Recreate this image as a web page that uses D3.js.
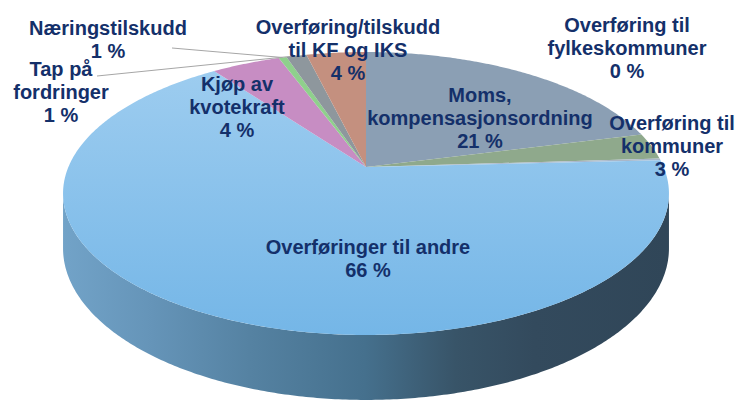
<!DOCTYPE html>
<html>
<head>
<meta charset="utf-8">
<script src="https://cdn.jsdelivr.net/npm/d3@7"></script>
<style>
  body { margin: 0; background: #fff; }
  text { font-family: "Liberation Sans", Arial, sans-serif; font-weight: bold; }
</style>
</head>
<body>
<div id="chart"></div>
<script>
// data, in pie order (clockwise from 12 o'clock); shares in percent, labels show them rounded
const categories = ["Moms, kompensasjonsordning", "Overføring til kommuner", "Overføring til fylkeskommuner",
  "Overføringer til andre", "Kjøp av kvotekraft", "Næringstilskudd", "Tap på fordringer",
  "Overføring/tilskudd til KF og IKS"];
const values = [21.0, 3.0, 0.2, 65.8, 4.4, 0.5, 1.3, 3.8];
const labelLines = [["Moms,", "kompensasjonsordning"], ["Overføring til", "kommuner"], ["Overføring til", "fylkeskommuner"],
  ["Overføringer til andre"], ["Kjøp av", "kvotekraft"], ["Næringstilskudd"], ["Tap på", "fordringer"],
  ["Overføring/tilskudd", "til KF og IKS"]];

// layout
const width = 738, height = 403;
const colors = ["#8b9fb4", "#8fa98c", "#a9b7c9", "url(#topBlue)", "#c78dc3", "#8fd08c", "#8e979d", "#c4907f"];
const labelAt = [[480, 102], [672, 130], [627, 32], [368, 254], [237, 91], [108, 35], [61, 76], [348, 34]];
const leaderFrom = {5: [172, 48], 6: [97, 76]};
const lineGap = 23;

// perspective projection of the pie disc
const cx = 366, cy = 167, A = 297.6, B = 136.5, k = 0.1873, T = 52.8;
function proj(a, r, h) {
  let x = r * Math.sin(a), z = r * Math.cos(a), w = 1 + k * z;
  return [cx + A * x / w, cy + (-B * z + h * T) / w];
}
function arcPts(a0, a1, h) {
  let n = Math.max(2, Math.ceil(Math.abs(a1 - a0) / 0.01));
  return d3.range(n + 1).map(i => proj(a0 + (a1 - a0) * i / n, 1, h));
}

let svg = d3.select("#chart").append("svg")
    .attr("width", width)
    .attr("height", height);

let defs = svg.append("defs");
let gTop = defs.append("linearGradient").attr("id", "topBlue")
    .attr("gradientUnits", "userSpaceOnUse")
    .attr("x1", 0).attr("y1", 52).attr("x2", 0).attr("y2", 337);
gTop.append("stop").attr("offset", 0).attr("stop-color", "#a0cef0");
gTop.append("stop").attr("offset", 1).attr("stop-color", "#74b6e7");

let gSide = defs.append("linearGradient").attr("id", "sideBlue")
    .attr("gradientUnits", "userSpaceOnUse")
    .attr("x1", 62).attr("y1", 0).attr("x2", 668).attr("y2", 0);
[[0, "#72a3c8"], [0.15, "#6594b8"], [0.31, "#5582a2"], [0.5, "#45708d"], [0.65, "#385468"], [0.78, "#334a5d"], [1, "#304658"]]
  .forEach(s => gSide.append("stop").attr("offset", s[0]).attr("stop-color", s[1]));

let pie = d3.pie().sort(null).startAngle(0).endAngle(2 * Math.PI);
let arcs = pie(values);
let line = d3.line();

// side wall (front half only)
let aR = Math.acos(-k), aL = 2 * Math.PI - aR;
arcs.forEach(d => {
  let s = Math.max(d.startAngle, aR), e = Math.min(d.endAngle, aL);
  if (e <= s) return;
  let pts = arcPts(s, e, 0).concat(arcPts(e, s, 1));
  svg.append("path")
      .attr("d", line(pts) + "Z")
      .attr("fill", "url(#sideBlue)");
});

// top faces
arcs.forEach((d, i) => {
  if (d.endAngle - d.startAngle <= 0) return;
  let pts = [[cx, cy]].concat(arcPts(d.startAngle, d.endAngle, 0));
  svg.append("path")
      .attr("d", line(pts) + "Z")
      .attr("fill", colors[i]);
});

// leader lines
arcs.forEach((d, i) => {
  if (!leaderFrom[i]) return;
  let end = proj((d.startAngle + d.endAngle) / 2, 1, 0);
  svg.append("line")
      .attr("x1", leaderFrom[i][0]).attr("y1", leaderFrom[i][1])
      .attr("x2", end[0]).attr("y2", end[1])
      .attr("stroke", "#a6a6a6").attr("stroke-width", 1);
});

// labels
categories.forEach((c, i) => {
  let lines = labelLines[i].concat([Math.round(values[i]) + " %"]);
  let t = svg.append("text")
      .attr("x", labelAt[i][0]).attr("y", labelAt[i][1])
      .attr("text-anchor", "middle")
      .attr("font-size", 20)
      .attr("fill", "#14306a");
  lines.forEach((l, j) => {
    t.append("tspan").attr("x", labelAt[i][0]).attr("y", labelAt[i][1] + j * lineGap).text(l);
  });
});
</script>
</body>
</html>
